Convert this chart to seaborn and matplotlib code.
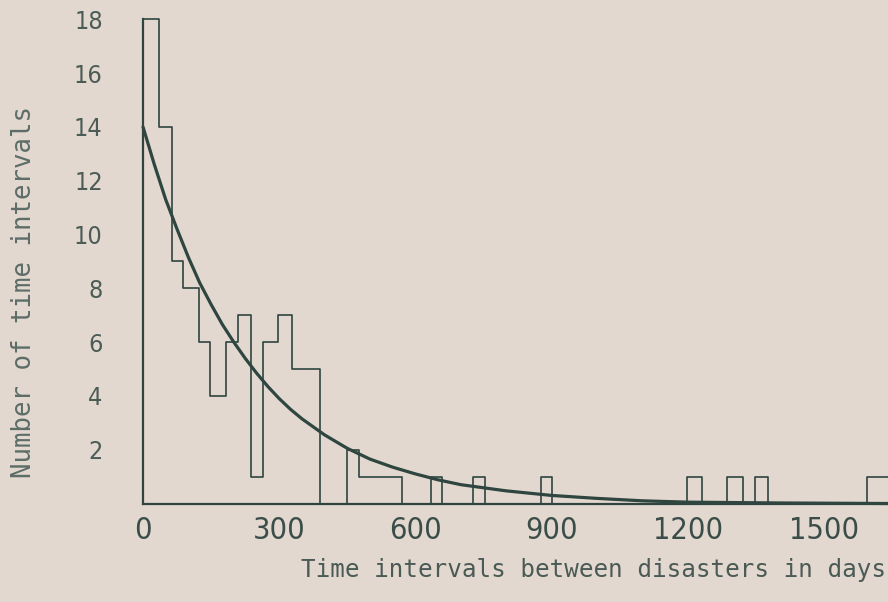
import numpy as np
import pandas as pd
import matplotlib
matplotlib.use("Agg")
import matplotlib.pyplot as plt
from matplotlib import font_manager
import seaborn as sns

# bin edges (days) and number of intervals per bin
bin_edges = [0, 35, 64, 88, 123, 148, 183, 209, 238, 264, 297, 328, 390, 449, 476,
             570, 634, 659, 727, 753, 877, 901, 1198, 1231, 1286, 1322, 1348, 1377,
             1595, 1641]
bin_counts = [18, 14, 9, 8, 6, 4, 6, 7, 1, 6, 7, 5, 0, 2, 1,
              0, 1, 0, 1, 0, 1, 0, 1, 0, 1, 0, 1, 0, 1]

# fitted curve, points
curve_days = [0, 25, 50, 75, 100, 125, 150, 175, 200, 225, 250, 275, 300, 325, 350,
              375, 400, 450, 500, 550, 600, 650, 700, 800, 900, 1000, 1100, 1200,
              1400, 1641]
curve_count = [14.0, 12.6, 11.3, 10.2, 9.15, 8.2, 7.4, 6.65, 6.0, 5.4, 4.85, 4.35,
               3.9, 3.5, 3.15, 2.85, 2.55, 2.05, 1.65, 1.35, 1.1, 0.88, 0.7, 0.47,
               0.3, 0.19, 0.1, 0.05, 0.02, 0.0]

x_ticks = [0, 150, 300, 450, 600, 750, 900, 1050, 1200, 1350, 1500]
x_ticklabels = ["0", "", "300", "", "600", "", "900", "", "1200", "", "1500"]
y_ticks = [2, 4, 6, 8, 10, 12, 14, 16, 18]

BG = "#e3d8cf"
INK = "#2e4540"

sns.set_style("white")
plt.rcParams["font.family"] = ["DejaVu Sans"]

# upright condensed face for the tick numbers
cond = [f for f in font_manager.fontManager.ttflist
        if "DejaVuSansCondensed.ttf" in f.fname]
if cond:
    tick_font = font_manager.FontProperties(fname=cond[0].fname)
    xsize, ysize = 22, 18
else:
    tick_font = font_manager.FontProperties(family="DejaVu Sans")
    xsize, ysize = 19.5, 16.5

fig = plt.figure(figsize=(8.88, 6.02), dpi=100, facecolor=BG)
ax = fig.add_axes([143 / 888, 98.5 / 602, 745 / 888, 484.2 / 602])
ax.set_facecolor(BG)

edges = np.array(bin_edges, dtype=float)
hist_df = pd.DataFrame({"mid": (edges[:-1] + edges[1:]) / 2, "count": bin_counts})
sns.histplot(data=hist_df, x="mid", weights="count", bins=list(bin_edges),
             element="step", fill=False, color=INK, linewidth=1.2, ax=ax,
             clip_on=False)
sns.lineplot(x=curve_days, y=curve_count, color=INK, linewidth=2.3, ax=ax,
             clip_on=False)

ax.set_xlim(0, 1641)
ax.set_ylim(0, 18)
sns.despine(ax=ax)
for side in ("left", "bottom"):
    ax.spines[side].set_color(INK)
    ax.spines[side].set_linewidth(1.6)

ax.set_xticks(x_ticks)
ax.set_xticklabels(x_ticklabels)
ax.set_yticks(y_ticks)
ax.tick_params(axis="x", direction="out", length=7, width=1.2, color=INK,
               pad=2, labelcolor="#3b4d48")
ax.tick_params(axis="y", direction="out", length=7, width=1.2, color=INK,
               pad=22, labelcolor="#4b5c57")
for lab in ax.get_xticklabels():
    lab.set_fontproperties(tick_font)
    lab.set_fontsize(xsize)
for lab in ax.get_yticklabels():
    lab.set_fontproperties(tick_font)
    lab.set_fontsize(ysize)
ax.xaxis.get_major_ticks()[0].tick1line.set_visible(False)
ax.set_xlabel("")
ax.set_ylabel("")

fig.text(593 / 888, 1 - 570 / 602, "Time intervals between disasters in days",
         family="DejaVu Sans Mono", fontsize=17.5, color="#4a5a55",
         ha="center", va="center")
fig.text(24 / 888, 1 - 292 / 602, "Number of time intervals",
         family="DejaVu Sans Mono", fontsize=18.5, color="#5d6d68",
         ha="center", va="center", rotation=90)

fig.savefig("out.png", dpi=100, facecolor=BG)
